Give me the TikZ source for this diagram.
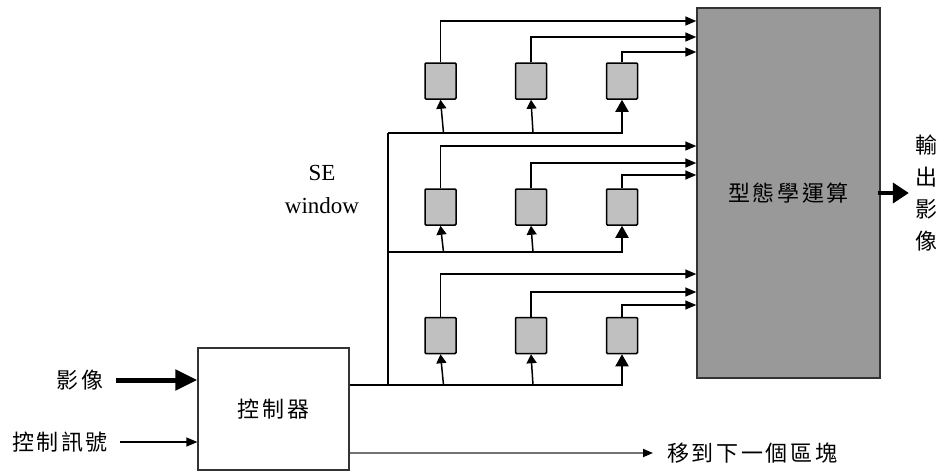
\documentclass[tikz,border=0pt]{standalone}
\usepackage{fontspec}
\setmainfont{Liberation Serif}
\newfontfamily\cjk[LetterSpace=12]{Noto Sans CJK TC}
\usetikzlibrary{arrows.meta, positioning}
\definecolor{segray}{HTML}{C0C0C0}
\definecolor{opgray}{HTML}{999999}
\tikzstyle{cjktext} = [inner sep=0pt, font=\cjk\fontsize{22}{32}\selectfont]
\tikzstyle{sebox} = [rectangle, rounded corners=1pt, minimum width=31pt, minimum height=36pt, inner sep=0pt, draw=black, line width=1.5pt, fill=segray]
\tikzstyle{opbox} = [rectangle, minimum width=183pt, minimum height=370pt, draw=black!80, line width=1.4pt, fill=opgray, font=\cjk\fontsize{22}{32}\selectfont]
\tikzstyle{ctrlbox} = [rectangle, minimum width=151pt, minimum height=122pt, draw=black!80, line width=1.2pt, fill=white, font=\cjk\fontsize{22}{32}\selectfont]
\tikzstyle{bus} = [line width=2pt]
\tikzstyle{tap} = [line width=1.5pt, -{Triangle[length=9pt,width=10pt]}]
\tikzstyle{tapend} = [bus, -{Triangle[length=12pt,width=13pt]}]
\tikzstyle{arrow} = [line width=1.4pt, -{Triangle[length=11pt,width=9pt]}]
\tikzstyle{bigarrow} = [line width=5pt, -{Triangle[length=22pt,width=20pt]}]
\begin{document}
\begin{tikzpicture}[x=1pt, y=-1pt]
\useasboundingbox (0,0) rectangle (940,472);

% Controller and operator
\node (ctrl) [ctrlbox] at (273.5,409) {控制器};
\node (morph) [opbox] at (788.5,193) {型態學運算};

% Row 1
\node (se11) [sebox] at (440.5,81) {};
\node (se12) [sebox] at (531,81) {};
\node (se13) [sebox] at (622,81) {};

% Row 2
\node (se21) [sebox] at (440.5,207) {};
\node (se22) [sebox] at (531,207) {};
\node (se23) [sebox] at (622,207) {};

% Row 3
\node (se31) [sebox] at (440.5,335.5) {};
\node (se32) [sebox] at (531,335.5) {};
\node (se33) [sebox] at (622,335.5) {};

% Labels
\node (img) [cjktext] at (80,380) {影像};
\node (sig) [cjktext] at (60,442) {控制訊號};
\node (next) [cjktext, anchor=west] at (667,453) {移到下一個區塊};
\node (out) [cjktext, align=center] at (926,193) {輸\\出\\影\\像};
\node (sewin) [align=center, font=\fontsize{23}{33}\selectfont] at (322,189) {SE\\window};

% Bus
\coordinate (split) at (388,385);
\coordinate (bus1) at (388,133);
\coordinate (bus2) at (388,252);
\draw [bus] ([yshift=24pt]ctrl.east) -- (split);
\draw [bus] (split) -- (bus1);
\draw [tapend] (split) -| (se33.south);
\draw [tapend] (bus1) -| (se13.south);
\draw [tapend] (bus2) -| (se23.south);

% Taps
\draw [tap] ([xshift=3pt]se11.south |- bus1) -- (se11.south);
\draw [tap] ([xshift=2pt]se12.south |- bus1) -- (se12.south);
\draw [tap] ([xshift=3pt]se21.south |- bus2) -- (se21.south);
\draw [tap] ([xshift=2pt]se22.south |- bus2) -- (se22.south);
\draw [tap] ([xshift=3pt]se31.south |- split) -- (se31.south);
\draw [tap] ([xshift=2pt]se32.south |- split) -- (se32.south);

% Outputs to operator
\draw [arrow] (se11.north) |- ([yshift=172pt]morph.west);
\draw [arrow] (se12.north) |- ([yshift=156pt]morph.west);
\draw [arrow] (se13.north) |- ([yshift=141pt]morph.west);
\draw [arrow] (se21.north) |- ([yshift=47pt]morph.west);
\draw [arrow] (se22.north) |- ([yshift=30pt]morph.west);
\draw [arrow] (se23.north) |- ([yshift=18pt]morph.west);
\draw [arrow] (se31.north) |- ([yshift=-81pt]morph.west);
\draw [arrow] (se32.north) |- ([yshift=-99pt]morph.west);
\draw [arrow] (se33.north) |- ([yshift=-112pt]morph.west);

% Inputs and outputs
\draw [bigarrow, shorten <=12pt] (img.east) -- (img.east -| ctrl.west);
\draw [arrow, line width=1.2pt, shorten <=12pt] (sig.east) -- (sig.east -| ctrl.west);
\draw [line width=1.8pt, draw=black!55, -{Triangle[length=10pt,width=8pt,black]}, shorten >=14pt] ([yshift=-44pt]ctrl.east) -- (next.west);
\draw [line width=4pt, -{Triangle[length=16pt,width=20pt]}, shorten <=-3pt, shorten >=6pt] (morph.east) -- (out.west);

\end{tikzpicture}
\end{document}
